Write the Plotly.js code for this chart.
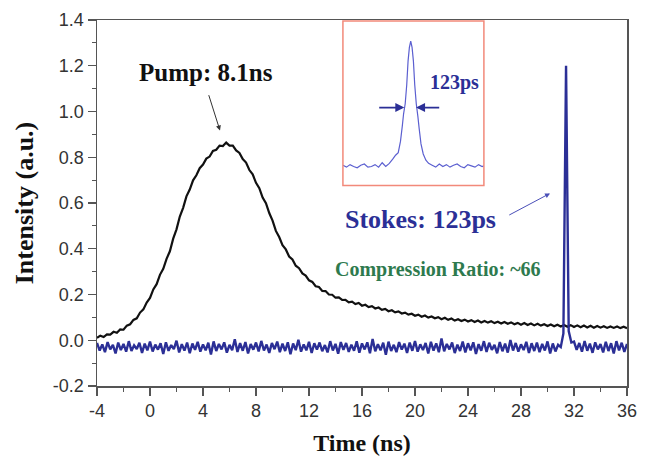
<!DOCTYPE html>
<html>
<head>
<meta charset="utf-8">
<script src="https://cdn.plot.ly/plotly-3.0.1.min.js"></script>
<style>html,body{margin:0;padding:0;background:#fff;}#chart{width:651px;height:456px;}</style>
</head>
<body>
<div id="chart"></div>
<script>
// ---- data ----
// Pump pulse: time from -4 ns, step 0.25 ns
var pumpStart = -4, pumpStep = 0.25;
var pumpIntensity = [
0.010,0.020,0.014,0.026,0.025,0.037,0.033,0.047,
0.046,0.064,0.070,0.089,0.096,0.121,0.135,0.165,
0.185,0.222,0.245,0.286,0.312,0.356,0.389,0.444,
0.485,0.541,0.579,0.629,0.659,0.699,0.721,0.752,
0.768,0.794,0.803,0.828,0.833,0.851,0.849,0.864,
0.851,0.851,0.830,0.819,0.792,0.777,0.744,0.725,
0.688,0.665,0.624,0.599,0.556,0.523,0.478,0.451,
0.416,0.397,0.366,0.353,0.326,0.315,0.292,0.283,
0.262,0.255,0.236,0.233,0.216,0.215,0.200,0.199,
0.186,0.187,0.176,0.177,0.166,0.169,0.158,0.163,
0.151,0.155,0.145,0.149,0.139,0.143,0.133,0.137,
0.127,0.131,0.122,0.126,0.117,0.121,0.112,0.116,
0.107,0.112,0.103,0.108,0.099,0.104,0.096,0.101,
0.092,0.098,0.089,0.095,0.086,0.092,0.084,0.090,
0.082,0.088,0.080,0.086,0.078,0.084,0.077,0.083,
0.075,0.081,0.073,0.080,0.072,0.078,0.070,0.076,
0.068,0.075,0.067,0.073,0.065,0.072,0.064,0.070,
0.062,0.069,0.061,0.068,0.060,0.067,0.059,0.066,
0.058,0.065,0.057,0.064,0.056,0.063,0.055,0.062,
0.055,0.061,0.054,0.060,0.054,0.060,0.053,0.059,
0.053];

// Stokes pulse: time from -4 ns, step 0.2 ns
var stokesStart = -4, stokesStep = 0.2;
var stokesIntensity = [
-0.012,-0.045,-0.018,-0.052,-0.008,-0.040,-0.020,-0.058,-0.010,-0.043,-0.016,-0.050,-0.004,-0.047,-0.022,-0.038,-0.011,-0.055,-0.015,-0.044,
-0.006,-0.049,-0.019,-0.041,-0.013,-0.060,-0.009,-0.046,-0.021,-0.039,-0.002,-0.053,-0.017,-0.045,-0.010,-0.057,-0.014,-0.042,-0.007,-0.050,
-0.018,-0.044,-0.011,-0.062,-0.005,-0.047,-0.016,-0.040,-0.009,-0.054,-0.020,-0.043,0.004,-0.051,-0.013,-0.046,-0.008,-0.058,-0.017,-0.041,
-0.010,-0.049,-0.003,-0.045,-0.019,-0.055,-0.012,-0.039,-0.006,-0.052,-0.015,-0.047,-0.009,-0.061,-0.014,-0.043,0.002,-0.050,-0.018,-0.044,
-0.007,-0.056,-0.013,-0.041,-0.010,-0.048,-0.021,-0.053,-0.004,-0.045,-0.016,-0.059,-0.008,-0.042,-0.012,-0.051,-0.019,-0.046,-0.005,-0.054,
-0.014,-0.040,-0.009,-0.057,0.006,-0.048,-0.017,-0.044,-0.011,-0.063,-0.006,-0.047,-0.020,-0.052,-0.008,-0.041,-0.015,-0.055,-0.010,-0.046,
-0.003,-0.050,-0.018,-0.043,-0.012,-0.058,-0.007,-0.045,-0.014,-0.052,0.008,-0.048,-0.016,-0.040,-0.010,-0.056,-0.019,-0.047,-0.006,-0.053,
-0.013,-0.044,-0.009,-0.060,-0.017,-0.046,-0.004,-0.051,-0.011,-0.042,-0.020,-0.057,-0.008,-0.048,-0.015,-0.054,0.001,-0.045,-0.012,-0.050,
-0.018,-0.043,-0.007,-0.056,-0.013,-0.047,-0.010,-0.052,-0.016,-0.045,-0.005,-0.058,-0.014,-0.049,-0.020,-0.030,0.030,1.200,0.040,-0.010,
-0.006,-0.042,-0.012,-0.050,-0.003,-0.046,-0.015,-0.055,-0.009,-0.040,-0.017,-0.053,-0.007,-0.047,-0.013,-0.058,-0.004,-0.044,-0.011,-0.051,
-0.016];

// Inset: zoom on the Stokes pulse (time in ps relative to peak, normalised intensity)
var insetTime = [-760,-720,-680,-640,-600,-560,-520,-480,-440,-400,-360,-320,-280,-240,-200,
  -170,-140,-115,-95,-80,-62,-45,-30,-15,0,15,30,45,62,80,95,115,140,170,
  200,240,280,320,360,400,440,480,520,560,600,640,680,720,760,800,820];
var insetIntensity = [0.01,-0.005,0.015,0.0,-0.01,0.01,0.02,-0.005,0.0,0.015,-0.005,0.03,0.0,0.025,0.06,
  0.09,0.11,0.2,0.32,0.42,0.5,0.65,0.84,0.95,1.0,0.95,0.84,0.65,0.5,0.4,0.3,0.18,0.1,0.05,
  0.025,0.01,-0.005,0.02,0.0,0.015,-0.005,0.01,0.02,0.0,-0.01,0.015,0.005,-0.005,0.015,0.0,0.005];

// Tick labels
var xTickVals = [-4,0,4,8,12,16,20,24,28,32,36];
var xTickText = ['-4','0','4','8','12','16','20','24','28','32','36'];
var yTickVals = [-0.2,0.0,0.2,0.4,0.6,0.8,1.0,1.2,1.4];
var yTickText = ['-0.2','0.0','0.2','0.4','0.6','0.8','1.0','1.2','1.4'];

// Annotation texts
var pumpLabel = 'Pump: 8.1ns';
var stokesLabel = 'Stokes: 123ps';
var ratioLabel = 'Compression Ratio: ~66';
var widthLabel = '123ps';

// ---- figure ----
var serif = 'Liberation Serif, Times New Roman, serif';
var sans = 'Liberation Sans, Arial, sans-serif';
var stokesBlue = '#2b2f96';

var traces = [
  {x0: pumpStart, dx: pumpStep, y: pumpIntensity, type: 'scatter', mode: 'lines',
   line: {color: '#111111', width: 2.2, simplify: false}, xaxis: 'x', yaxis: 'y', hoverinfo: 'skip'},
  {x0: stokesStart, dx: stokesStep, y: stokesIntensity, type: 'scatter', mode: 'lines',
   line: {color: stokesBlue, width: 2.4, simplify: false}, xaxis: 'x', yaxis: 'y', hoverinfo: 'skip'},
  {x: insetTime, y: insetIntensity, type: 'scatter', mode: 'lines',
   line: {color: '#5b5fd0', width: 1.2, simplify: false}, xaxis: 'x2', yaxis: 'y2', hoverinfo: 'skip'}
];

var axisCommon = {
  showline: true, linecolor: '#555555', linewidth: 1.5, mirror: true,
  ticks: 'outside', tickcolor: '#555555', tickwidth: 1.3, ticklen: 8,
  showgrid: false, zeroline: false,
  tickfont: {family: sans, size: 18, color: '#333333'}
};

var layout = {
  width: 651, height: 456,
  margin: {l: 97, r: 24, t: 20, b: 70},
  paper_bgcolor: '#ffffff', plot_bgcolor: '#ffffff',
  showlegend: false,
  xaxis: Object.assign({}, axisCommon, {
    range: [-4, 36], tickmode: 'array', tickvals: xTickVals, ticktext: xTickText,
    minor: {dtick: 2, tick0: 0, ticks: 'outside', ticklen: 4, tickcolor: '#555555', tickwidth: 1.2},
    title: {text: 'Time (ns)', font: {family: serif, size: 24, color: '#111111', weight: 'bold'}, standoff: 14}
  }),
  yaxis: Object.assign({}, axisCommon, {
    range: [-0.2, 1.4], tickmode: 'array', tickvals: yTickVals, ticktext: yTickText,
    minor: {dtick: 0.1, tick0: 0, ticks: 'outside', ticklen: 4, tickcolor: '#555555', tickwidth: 1.2},
    title: {text: 'Intensity (a.u.)', font: {family: serif, size: 26, color: '#111111', weight: 'bold'}, standoff: 12}
  }),
  xaxis2: {domain: [0.464, 0.730], anchor: 'y2', range: [-760, 820], visible: false, fixedrange: true},
  yaxis2: {domain: [0.548, 0.997], anchor: 'x2', range: [-0.151, 1.159], visible: false, fixedrange: true},
  shapes: [
    {type: 'rect', xref: 'paper', yref: 'paper', x0: 0.464, x1: 0.730, y0: 0.548, y1: 0.997,
     line: {color: '#f2897a', width: 1.5}, fillcolor: 'rgba(0,0,0,0)', layer: 'above'}
  ],
  annotations: [
    {xref: 'x', yref: 'y', x: 4.23, y: 1.171, text: pumpLabel, showarrow: false,
     font: {family: serif, size: 25, color: '#111111', weight: 'bold'}, xanchor: 'center', yanchor: 'middle'},
    {xref: 'x', yref: 'y', axref: 'x', ayref: 'y', x: 5.28, y: 0.917, ax: 4.40, ay: 1.078, text: '',
     showarrow: true, arrowhead: 2, arrowsize: 1, arrowwidth: 1, arrowcolor: '#333333'},
    {xref: 'x', yref: 'y', x: 20.45, y: 0.53, text: stokesLabel, showarrow: false,
     font: {family: serif, size: 26, color: stokesBlue, weight: 'bold'}, xanchor: 'center', yanchor: 'middle'},
    {xref: 'x', yref: 'y', axref: 'x', ayref: 'y', x: 30.19, y: 0.642, ax: 27.0, ay: 0.544, text: '',
     showarrow: true, arrowhead: 2, arrowsize: 1, arrowwidth: 1, arrowcolor: '#4a4fb8'},
    {xref: 'x', yref: 'y', x: 21.7, y: 0.31, text: ratioLabel, showarrow: false,
     font: {family: serif, size: 20, color: '#2e7a4e', weight: 'bold'}, xanchor: 'center', yanchor: 'middle'},
    {xref: 'x2', yref: 'y2', x: 493, y: 0.67, text: widthLabel, showarrow: false,
     font: {family: serif, size: 20, color: '#2b2f96', weight: 'bold'}, xanchor: 'center', yanchor: 'middle'},
    {xref: 'x2', yref: 'y2', axref: 'x2', ayref: 'y2', x: -72, y: 0.47, ax: -370, ay: 0.47, text: '',
     showarrow: true, arrowhead: 2, arrowsize: 1, arrowwidth: 1.8, arrowcolor: '#2b2f96'},
    {xref: 'x2', yref: 'y2', axref: 'x2', ayref: 'y2', x: 60, y: 0.47, ax: 336, ay: 0.47, text: '',
     showarrow: true, arrowhead: 2, arrowsize: 1, arrowwidth: 1.8, arrowcolor: '#2b2f96'}
  ]
};

Plotly.newPlot('chart', traces, layout, {staticPlot: true, displayModeBar: false});
</script>
</body>
</html>
